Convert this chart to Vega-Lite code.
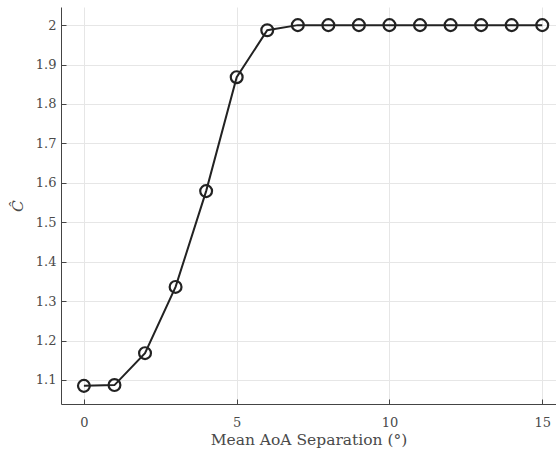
{
  "$schema": "https://vega.github.io/schema/vega-lite/v6.json",
  "width": 495,
  "height": 397,
  "autosize": "none",
  "padding": {"left": 61, "top": 7, "right": 0, "bottom": 47},
  "background": "white",
  "config": {
    "view": {"stroke": null},
    "font": "DejaVu Serif, Liberation Serif, serif",
    "axis": {
      "labelFont": "DejaVu Serif, Liberation Serif, serif",
      "titleFont": "DejaVu Serif, Liberation Serif, serif",
      "labelFontSize": 13,
      "titleFontSize": 15.5,
      "labelColor": "#4a4a4a",
      "titleColor": "#4a4a4a",
      "titleFontWeight": "normal",
      "domainColor": "#444",
      "tickColor": "#444",
      "gridColor": "#e6e6e6",
      "gridWidth": 1,
      "domainWidth": 1
    }
  },
  "data": {
    "values": [
      {"sep": 0, "c": 1.085},
      {"sep": 1, "c": 1.087},
      {"sep": 2, "c": 1.168},
      {"sep": 3, "c": 1.336},
      {"sep": 4, "c": 1.579},
      {"sep": 5, "c": 1.868},
      {"sep": 6, "c": 1.987},
      {"sep": 7, "c": 2.0},
      {"sep": 8, "c": 2.0},
      {"sep": 9, "c": 2.0},
      {"sep": 10, "c": 2.0},
      {"sep": 11, "c": 2.0},
      {"sep": 12, "c": 2.0},
      {"sep": 13, "c": 2.0},
      {"sep": 14, "c": 2.0},
      {"sep": 15, "c": 2.0}
    ]
  },
  "encoding": {
    "x": {
      "field": "sep",
      "type": "quantitative",
      "scale": {"domain": [-0.75, 15.45], "nice": false, "zero": false},
      "axis": {
        "title": "Mean AoA Separation (°)",
        "values": [0, 5, 10, 15],
        "tickSize": -5,
        "labelPadding": 17,
        "titlePadding": 3
      }
    },
    "y": {
      "field": "c",
      "type": "quantitative",
      "scale": {"domain": [1.039, 2.046], "nice": false, "zero": false},
      "axis": {
        "title": "Ĉ",
        "titleFontStyle": "italic",
        "values": [1.1, 1.2, 1.3, 1.4, 1.5, 1.6, 1.7, 1.8, 1.9, 2.0],
        "format": "~g",
        "tickSize": -5,
        "labelPadding": 10,
        "titlePadding": 10
      }
    }
  },
  "layer": [
    {"mark": {"type": "line", "color": "#222", "strokeWidth": 2}},
    {"mark": {"type": "point", "shape": "circle", "filled": false, "color": "#222", "strokeWidth": 2.2, "size": 140, "opacity": 1}}
  ]
}
